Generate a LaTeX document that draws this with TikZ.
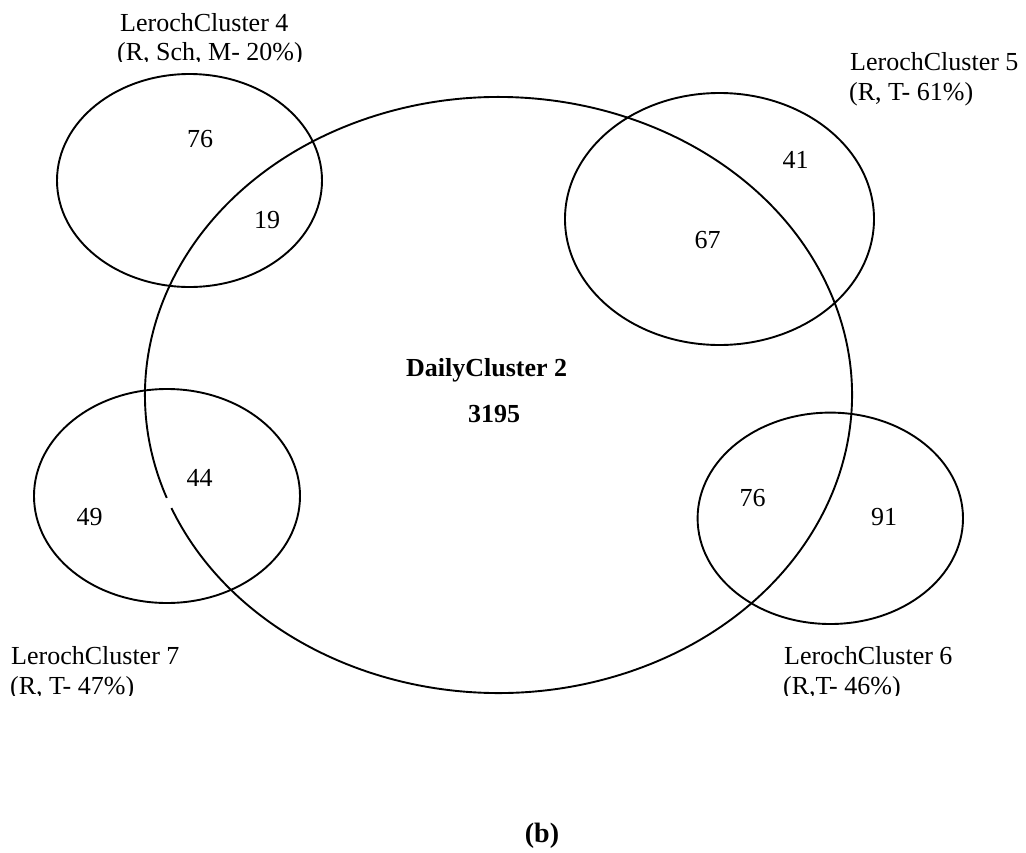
\documentclass[tikz,border=0pt]{standalone}
\usepackage{fontspec}
\setmainfont{Liberation Serif}
\begin{document}
\begin{tikzpicture}[x=1pt,y=1pt,
  ring/.style={draw=black,line width=1.9pt},
  lbl/.style={anchor=base west,inner sep=0pt,font=\fontsize{26}{30}\selectfont},
  num/.style={anchor=base,inner sep=0pt,font=\fontsize{26}{30}\selectfont},
  bnum/.style={anchor=base,inner sep=0pt,font=\fontsize{26}{30}\selectfont\bfseries}]
\useasboundingbox (0,0) rectangle (1026,-852);

% centres of the sets
\coordinate (daily) at (498.5,-395);
\coordinate (c4) at (189.5,-180.5);
\coordinate (c5) at (719.5,-219);
\coordinate (c6) at (830.3,-518.3);
\coordinate (c7) at (167,-496);

% the large set, with a short break on its left side
\draw[ring] ([shift={(202.3:353.5 and 298)}]daily)
  arc[start angle=202.3, end angle=560.2, x radius=353.5, y radius=298];

% the four smaller sets
\draw[ring] (c4) ellipse [x radius=132.5, y radius=106.5];
\draw[ring] (c5) ellipse [x radius=154.5, y radius=126];
\draw[ring] (c6) ellipse [x radius=132.7, y radius=105.7];
\draw[ring] (c7) ellipse [x radius=133, y radius=107];

% set captions (the second lines are cut off by their boxes)
\node[lbl] (t4a) at (120,-31) {LerochCluster 4};
\begin{scope}
  \clip (0,-61.5) rectangle (400,-35);
  \node[lbl] (t4b) at (117,-60.5) {(R, Sch, M- 20\%)};
\end{scope}
\node[lbl] (t5a) at (850,-70.7) {LerochCluster 5};
\node[lbl] (t5b) at (849,-100.5) {(R, T- 61\%)};
\node[lbl] (t7a) at (11,-664.5) {LerochCluster 7};
\node[lbl] (t6a) at (784,-664.5) {LerochCluster 6};
\begin{scope}
  \clip (0,-695.5) rectangle (1026,-670);
  \node[lbl] (t7b) at (10,-694.5) {(R, T- 47\%)};
  \node[lbl] (t6b) at (783,-694.5) {(R,T- 46\%)};
\end{scope}

% counts
\node[num] (n76a) at (200,-147.7) {76};
\node[num] (n19) at (267,-228) {19};
\node[num] (n41) at (795.5,-168) {41};
\node[num] (n67) at (707.5,-248) {67};
\node[num] (n44) at (199.5,-486) {44};
\node[num] (n49) at (89.5,-525) {49};
\node[num] (n76b) at (752.5,-506) {76};
\node[num] (n91) at (884,-525) {91};

% central set caption and total
\node[bnum] (dname) at (486.7,-376.7) {DailyCluster 2};
\node[bnum] (dtotal) at (494,-422.7) {3195};

% panel tag
\node[bnum,font=\fontsize{28}{32}\selectfont\bfseries] (tag) at (542,-842) {(b)};
\end{tikzpicture}
\end{document}
